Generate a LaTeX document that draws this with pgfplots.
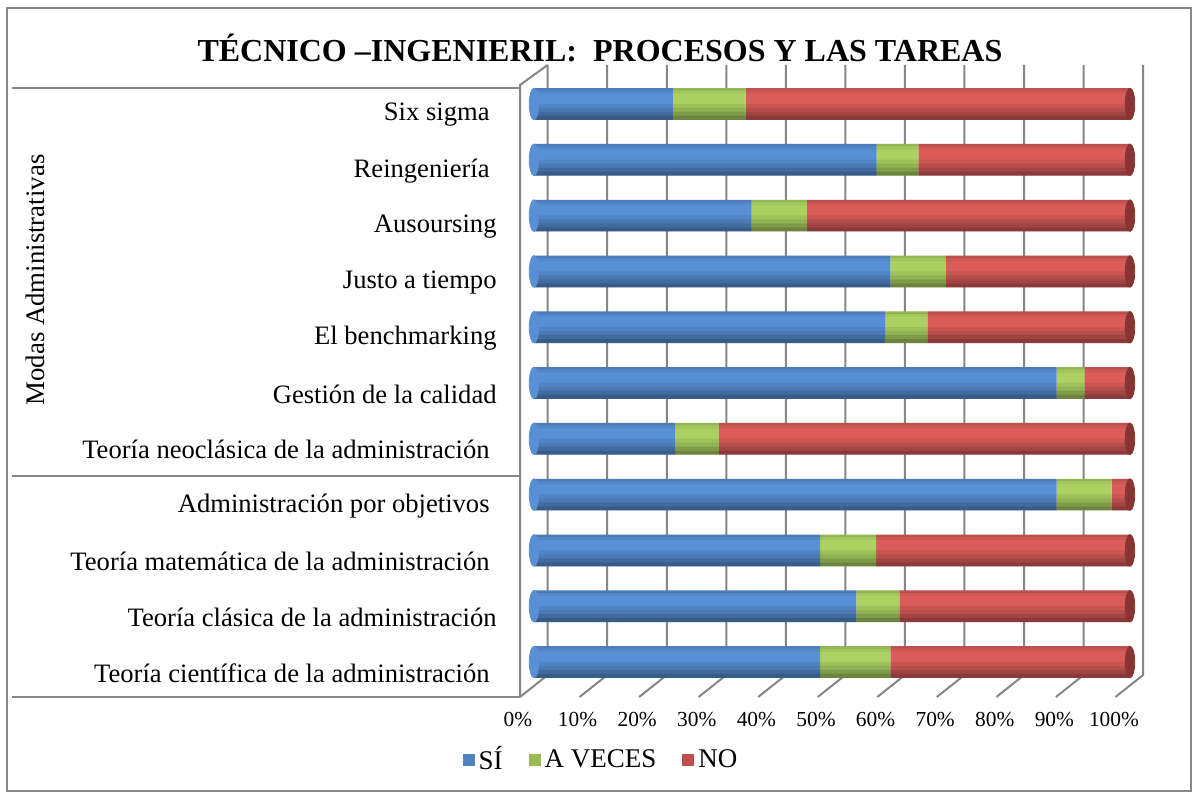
\documentclass[border=0pt]{standalone}
\usepackage{pgfplots}
\pgfplotsset{compat=1.18}
\usepackage{fontspec}
\setmainfont{Liberation Serif}

\definecolor{gridc}{RGB}{134,134,134}
% legend colours
\definecolor{siL}{RGB}{79,129,189}
\definecolor{avL}{RGB}{155,187,89}
\definecolor{noL}{RGB}{192,80,77}
% bar colours
\definecolor{siM}{RGB}{88,143,213}
\definecolor{avM}{RGB}{172,208,98}
\definecolor{noM}{RGB}{217,92,90}
\definecolor{capR}{RGB}{136,52,50}

\newcommand{\tr}{\kern3.5pt}

\pgfplotsset{
  samebox/.style={
    at={(267pt,-344.95pt)}, anchor=south west,
    scale only axis, width=298pt, height=306.9pt,
    xmin=0, xmax=100, ymin=-0.5, ymax=10.5,
    clip=false,
  },
  band/.style n args={3}{xbar, bar width=#1, bar shift=#2, draw=none, fill=black, fill opacity=#3},
}

\begin{document}
\begin{tikzpicture}
% frame, 3D walls and group lines, in pixel units of the reference
\begin{scope}[x=0.5pt,y=-0.5pt]
  \path[use as bounding box] (0,0) rectangle (1193,792);
  \draw[gridc, line width=1pt] (7,8) rectangle (1191,791);
  \draw[gridc, line width=1pt] (12,88) -- (520,88);
  \draw[gridc, line width=1pt] (12,476) -- (520,476);
  \draw[gridc, line width=1pt] (12,697) -- (520,697);
  \draw[gridc, line width=1pt] (520,697) -- (520,85) -- (547.7,65);
  \foreach \k in {0,...,10} {
    \draw[gridc, line width=1pt] ({547.7+59.54*\k},65) -- ({547.7+59.54*\k},675) -- ({520+59.54*\k},697);
  }
  \node[rotate=90, font=\fontsize{13.4}{16}\selectfont] at (35,280) {Modas Administrativas};
  \node[font=\fontsize{16}{19}\selectfont\bfseries] at (600,48) {TÉCNICO –INGENIERIL:\ \ PROCESOS Y LAS TAREAS};
\end{scope}

\begin{axis}[
    samebox,
    xbar stacked, bar width=15.85pt,
    axis line style={draw=none},
    major tick length=0pt,
    tick style={draw=none},
    xtick={0,10,20,30,40,50,60,70,80,90,100},
    xticklabels={0\%,10\%,20\%,30\%,40\%,50\%,60\%,70\%,80\%,90\%,100\%},
    xticklabel style={font=\fontsize{10.7}{12}\selectfont, anchor=center, xshift=-8pt, yshift=-15pt},
    ytick={0,1,2,3,4,5,6,7,8,9,10},
    yticklabels={
      {Teoría científica de la administración\tr},
      {Teoría clásica de la administración},
      {Teoría matemática de la administración\tr},
      {Administración por objetivos\tr},
      {Teoría neoclásica de la administración\tr},
      {Gestión de la calidad},
      {El benchmarking},
      {Justo a tiempo},
      {Ausoursing},
      {Reingeniería\tr},
      {Six sigma\tr}},
    yticklabel style={font=\fontsize{13.3}{16}\selectfont, anchor=east, inner sep=0pt, xshift=-18.5pt, yshift=-5.5pt},
    legend style={at={(0.114,-0.114)}, anchor=center, draw=none, fill=none,
      legend columns=3, font=\fontsize{13.5}{16}\selectfont,
      /tikz/every even column/.append style={column sep=11pt}},
]
\addplot[draw=none, fill=siM,
  legend image code/.code={\fill[siL] (0pt,-3pt) rectangle (6pt,3pt);}]
  coordinates {(48.0,0) (54.1,1) (48.0,2) (87.7,3) (23.7,4) (87.7,5) (58.9,6) (59.8,7) (36.5,8) (57.5,9) (23.3,10)};
\addlegendentry{SÍ}
\addplot[draw=none, fill=avM,
  legend image code/.code={\fill[avL] (0pt,-3pt) rectangle (6pt,3pt);}]
  coordinates {(11.8,0) (7.2,1) (9.4,2) (9.2,3) (7.3,4) (4.7,5) (7.1,6) (9.3,7) (9.3,8) (7.0,9) (12.2,10)};
\addlegendentry{A VECES}
\addplot[draw=none, fill=noM,
  legend image code/.code={\fill[noL] (0pt,-3pt) rectangle (6pt,3pt);}]
  coordinates {(40.2,0) (38.7,1) (42.6,2) (3.1,3) (69.0,4) (7.6,5) (34.0,6) (30.9,7) (54.2,8) (35.5,9) (64.5,10)};
\addlegendentry{NO}
\end{axis}

% cylinder look: rounded ends and shading bands over the full bars (total = 100 %)
\begin{axis}[samebox, hide axis]
\addplot[only marks, color=siM, mark=*, mark size=7.9pt,
  mark options={xscale=0.3, draw=siM, fill=siM}]
  coordinates {(0,0) (0,1) (0,2) (0,3) (0,4) (0,5) (0,6) (0,7) (0,8) (0,9) (0,10)};
\addplot[band={2pt}{-6.925pt}{0.36}]
  coordinates {(100,0) (100,1) (100,2) (100,3) (100,4) (100,5) (100,6) (100,7) (100,8) (100,9) (100,10)};
\addplot[band={2pt}{-4.925pt}{0.25}]
  coordinates {(100,0) (100,1) (100,2) (100,3) (100,4) (100,5) (100,6) (100,7) (100,8) (100,9) (100,10)};
\addplot[band={2pt}{-2.925pt}{0.15}]
  coordinates {(100,0) (100,1) (100,2) (100,3) (100,4) (100,5) (100,6) (100,7) (100,8) (100,9) (100,10)};
\addplot[band={2pt}{-0.925pt}{0.07}]
  coordinates {(100,0) (100,1) (100,2) (100,3) (100,4) (100,5) (100,6) (100,7) (100,8) (100,9) (100,10)};
\addplot[band={1.5pt}{6.0pt}{0.05}]
  coordinates {(100,0) (100,1) (100,2) (100,3) (100,4) (100,5) (100,6) (100,7) (100,8) (100,9) (100,10)};
\addplot[band={1.2pt}{7.325pt}{0.13}]
  coordinates {(100,0) (100,1) (100,2) (100,3) (100,4) (100,5) (100,6) (100,7) (100,8) (100,9) (100,10)};
\addplot[only marks, color=capR, mark=*, mark size=7.9pt,
  mark options={xscale=0.3, draw=capR, fill=capR}]
  coordinates {(100,0) (100,1) (100,2) (100,3) (100,4) (100,5) (100,6) (100,7) (100,8) (100,9) (100,10)};
\end{axis}
\end{tikzpicture}
\end{document}
